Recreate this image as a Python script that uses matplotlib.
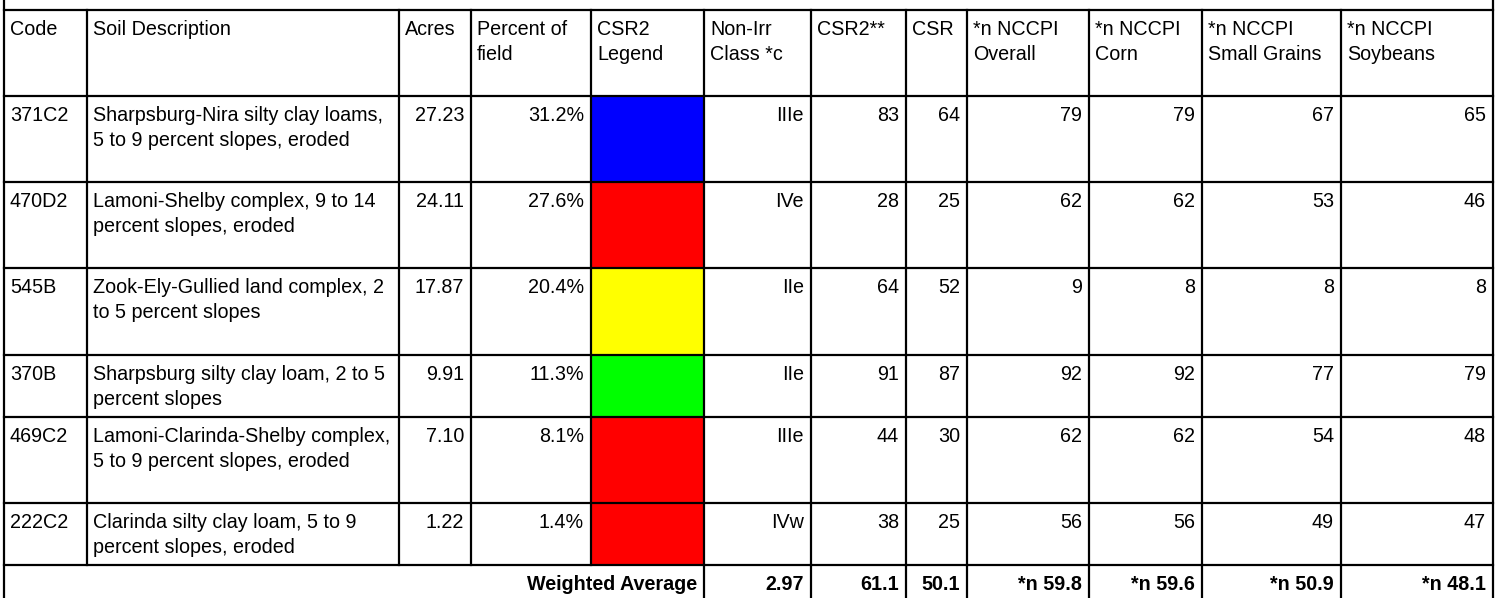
import matplotlib
matplotlib.use("Agg")
import matplotlib.pyplot as plt
from matplotlib.patches import Rectangle

plt.rcParams['font.family'] = ['Liberation Sans', 'DejaVu Sans']

# ---------------- data ----------------
headers = ["Code", "Soil Description", "Acres", "Percent of\nfield", "CSR2\nLegend",
           "Non-Irr\nClass *c", "CSR2**", "CSR", "*n NCCPI\nOverall", "*n NCCPI\nCorn",
           "*n NCCPI\nSmall Grains", "*n NCCPI\nSoybeans"]
codes = ["371C2", "470D2", "545B", "370B", "469C2", "222C2"]
descriptions = [
    "Sharpsburg-Nira silty clay loams,\n5 to 9 percent slopes, eroded",
    "Lamoni-Shelby complex, 9 to 14\npercent slopes, eroded",
    "Zook-Ely-Gullied land complex, 2\nto 5 percent slopes",
    "Sharpsburg silty clay loam, 2 to 5\npercent slopes",
    "Lamoni-Clarinda-Shelby complex,\n5 to 9 percent slopes, eroded",
    "Clarinda silty clay loam, 5 to 9\npercent slopes, eroded",
]
acres = [27.23, 24.11, 17.87, 9.91, 7.10, 1.22]
percent_of_field = [31.2, 27.6, 20.4, 11.3, 8.1, 1.4]
legend_colors = ["#0000ff", "#ff0000", "#ffff00", "#00ff00", "#ff0000", "#ff0000"]
non_irr_class = ["IIIe", "IVe", "IIe", "IIe", "IIIe", "IVw"]
csr2 = [83, 28, 64, 91, 44, 38]
csr = [64, 25, 52, 87, 30, 25]
nccpi_overall = [79, 62, 9, 92, 62, 56]
nccpi_corn = [79, 62, 8, 92, 62, 56]
nccpi_small_grains = [67, 53, 8, 77, 54, 49]
nccpi_soybeans = [65, 46, 8, 79, 48, 47]
weighted_label = "Weighted Average"
weighted_values = ["2.97", "61.1", "50.1", "*n 59.8", "*n 59.6", "*n 50.9", "*n 48.1"]

# ---------------- layout (pixels) ----------------
W, H = 1500, 598
col_edges = [4, 87, 399, 471, 591, 704, 811, 906, 967, 1089, 1202, 1341, 1493]
row_edges = [10, 96, 182, 268, 355, 417, 503, 565]
bottom = 598
FS = 14.2
LS = 1.43
PAD_X = 7
PAD_Y = 10
LW = 1.6

fig = plt.figure(figsize=(W / 100, H / 100), dpi=100)
ax = fig.add_axes([0, 0, 1, 1])
ax.set_xlim(0, W)
ax.set_ylim(H, 0)
ax.axis("off")

def left_text(x, y, s, **kw):
    ax.text(x + PAD_X - 1, y + PAD_Y, s, ha="left", va="top", fontsize=FS,
            linespacing=LS, color="black", **kw)

def right_text(x, y, s, **kw):
    ax.text(x - PAD_X, y + PAD_Y, s, ha="right", va="top", fontsize=FS,
            linespacing=LS, color="black", **kw)

# header
for j, h in enumerate(headers):
    left_text(col_edges[j], row_edges[0], h)

# body rows
for i in range(len(codes)):
    top = row_edges[i + 1]
    bot = row_edges[i + 2]
    ax.add_patch(Rectangle((col_edges[4], top), col_edges[5] - col_edges[4], bot - top,
                           facecolor=legend_colors[i], edgecolor="none", zorder=1))
    left_text(col_edges[0], top, codes[i])
    left_text(col_edges[1], top, descriptions[i])
    right_text(col_edges[3], top, f"{acres[i]:.2f}")
    right_text(col_edges[4], top, f"{percent_of_field[i]:.1f}%")
    right_text(col_edges[6], top, non_irr_class[i])
    right_text(col_edges[7], top, str(csr2[i]))
    right_text(col_edges[8], top, str(csr[i]))
    right_text(col_edges[9], top, str(nccpi_overall[i]))
    right_text(col_edges[10], top, str(nccpi_corn[i]))
    right_text(col_edges[11], top, str(nccpi_small_grains[i]))
    right_text(col_edges[12], top, str(nccpi_soybeans[i]))

# weighted average row
wtop = row_edges[-1]
right_text(col_edges[5], wtop, weighted_label, fontweight="bold")
for k, v in enumerate(weighted_values):
    right_text(col_edges[6 + k], wtop, v, fontweight="bold")

# grid lines
for y in row_edges:
    ax.plot([col_edges[0], col_edges[-1]], [y, y], solid_capstyle="projecting",
            color="black", linewidth=LW, zorder=3)
for x in (col_edges[0], col_edges[-1]):
    ax.plot([x, x], [0, bottom + 2], color="black", linewidth=LW, zorder=3)
for x in col_edges[1:-1]:
    ax.plot([x, x], [row_edges[0], row_edges[-1]], solid_capstyle="projecting",
            color="black", linewidth=LW, zorder=3)
for x in col_edges[5:-1]:
    ax.plot([x, x], [row_edges[-1], bottom + 2], color="black", linewidth=LW, zorder=3)

fig.savefig("out.png", dpi=100)
